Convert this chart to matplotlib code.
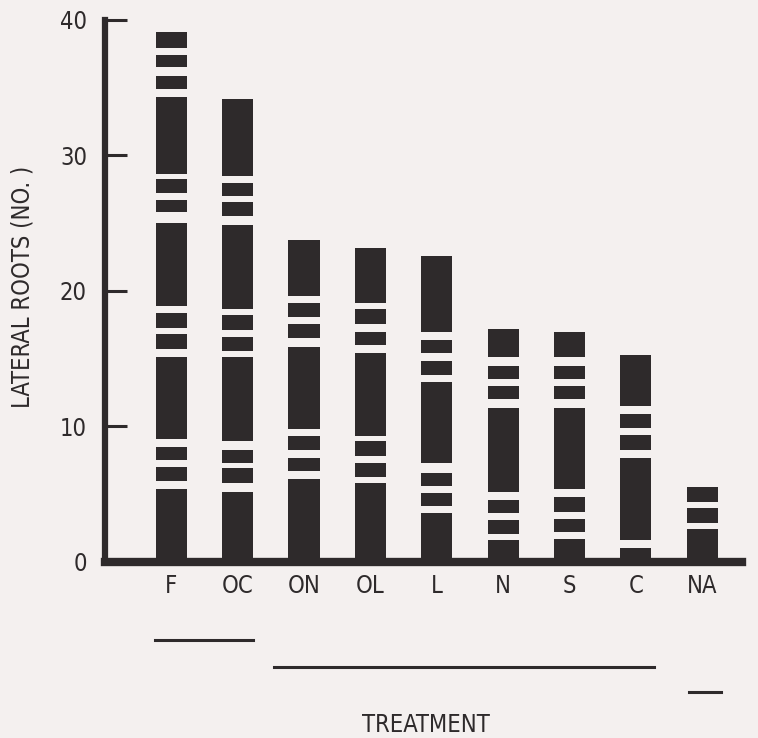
import matplotlib
matplotlib.use('Agg')
import matplotlib.pyplot as plt

treatments = ['F', 'OC', 'ON', 'OL', 'L', 'N', 'S', 'C', 'NA']

# black bands of each bar (low, high), bottom to top; white gaps between them
f_bands = [(0, 5.4), (6.0, 7.0), (7.5, 8.5), (9.1, 15.1), (15.7, 16.8), (17.3, 18.4),
           (18.9, 25.0), (25.8, 26.7), (27.2, 28.3), (28.6, 34.3), (34.9, 35.9),
           (36.5, 37.4), (37.9, 39.1)]
oc_bands = [(0, 5.2), (5.8, 6.9), (7.3, 8.3), (8.9, 15.1), (15.6, 16.6), (17.1, 18.2),
            (18.7, 24.9), (25.5, 26.6), (27.0, 28.0), (28.5, 34.2)]
on_bands = [(0, 6.1), (6.7, 7.7), (8.3, 9.3), (9.8, 15.9), (16.5, 17.6), (18.1, 19.1),
            (19.6, 23.8)]
ol_bands = [(0, 5.8), (6.3, 7.3), (7.8, 8.9), (9.3, 15.4), (16.0, 17.0), (17.6, 18.7),
            (19.1, 23.2)]
l_bands = [(0, 3.6), (4.1, 5.1), (5.6, 6.6), (7.3, 13.3), (13.8, 14.8), (15.4, 16.4),
           (17.0, 22.6)]
n_bands = [(0, 1.6), (2.1, 3.1), (3.6, 4.6), (5.2, 11.4), (12.0, 13.0), (13.5, 14.5),
           (15.1, 17.2)]
s_bands = [(0, 1.7), (2.2, 3.2), (3.7, 4.8), (5.4, 11.4), (12.0, 13.0), (13.5, 14.5),
           (15.1, 17.0)]
c_bands = [(0, 1.0), (1.6, 7.7), (8.3, 9.4), (9.9, 10.9), (11.5, 15.3)]
na_bands = [(0, 2.4), (2.9, 4.0), (4.4, 5.5)]

bands = [f_bands, oc_bands, on_bands, ol_bands, l_bands, n_bands, s_bands, c_bands, na_bands]

# groups that do not differ (underlines below the axis), in category units
group_spans = [(-0.25, 1.23), (1.55, 7.27), (7.8, 8.28)]
group_levels = [-0.144, -0.194, -0.240]

plt.rcParams['font.family'] = ['DejaVu Sans']
plt.rcParams['font.stretch'] = 'condensed'
plt.rcParams['font.size'] = 17

ink = '#2e2a2b'
paper = '#f4f0ef'

fig = plt.figure(figsize=(7.58, 7.38), dpi=100, facecolor=paper)
ax = fig.add_axes([0.1385, 0.2385, 0.8405, 0.7344], facecolor=paper)

for i, segs in enumerate(bands):
    for lo, hi in segs:
        ax.bar(i, hi - lo, bottom=lo, width=0.47, color=ink, linewidth=0)

ax.set_xlim(-1.0, 8.6)
ax.set_ylim(0, 40)
ax.set_xticks(range(len(treatments)))
ax.set_xticklabels(treatments)
ax.set_yticks([0, 10, 20, 30, 40])

ax.tick_params(axis='x', length=0, pad=9, colors=ink)
ax.tick_params(axis='y', direction='in', length=16, width=2.2, pad=13, colors=ink)

for side in ['top', 'right']:
    ax.spines[side].set_visible(False)
ax.spines['left'].set_linewidth(4.5)
ax.spines['bottom'].set_linewidth(6)
ax.spines['left'].set_color(ink)
ax.spines['bottom'].set_color(ink)

tr = ax.get_xaxis_transform()
for (x0, x1), lev in zip(group_spans, group_levels):
    ax.plot([x0, x1], [lev, lev], color=ink, linewidth=2.2, transform=tr, clip_on=False)

ax.text(3.84, -0.301, 'TREATMENT', transform=tr, ha='center', va='center', color=ink)
fig.text(0.030, 0.611, 'LATERAL ROOTS (NO. )', rotation=90, ha='center', va='center', color=ink)

fig.savefig('out.png', dpi=100, facecolor=paper)
